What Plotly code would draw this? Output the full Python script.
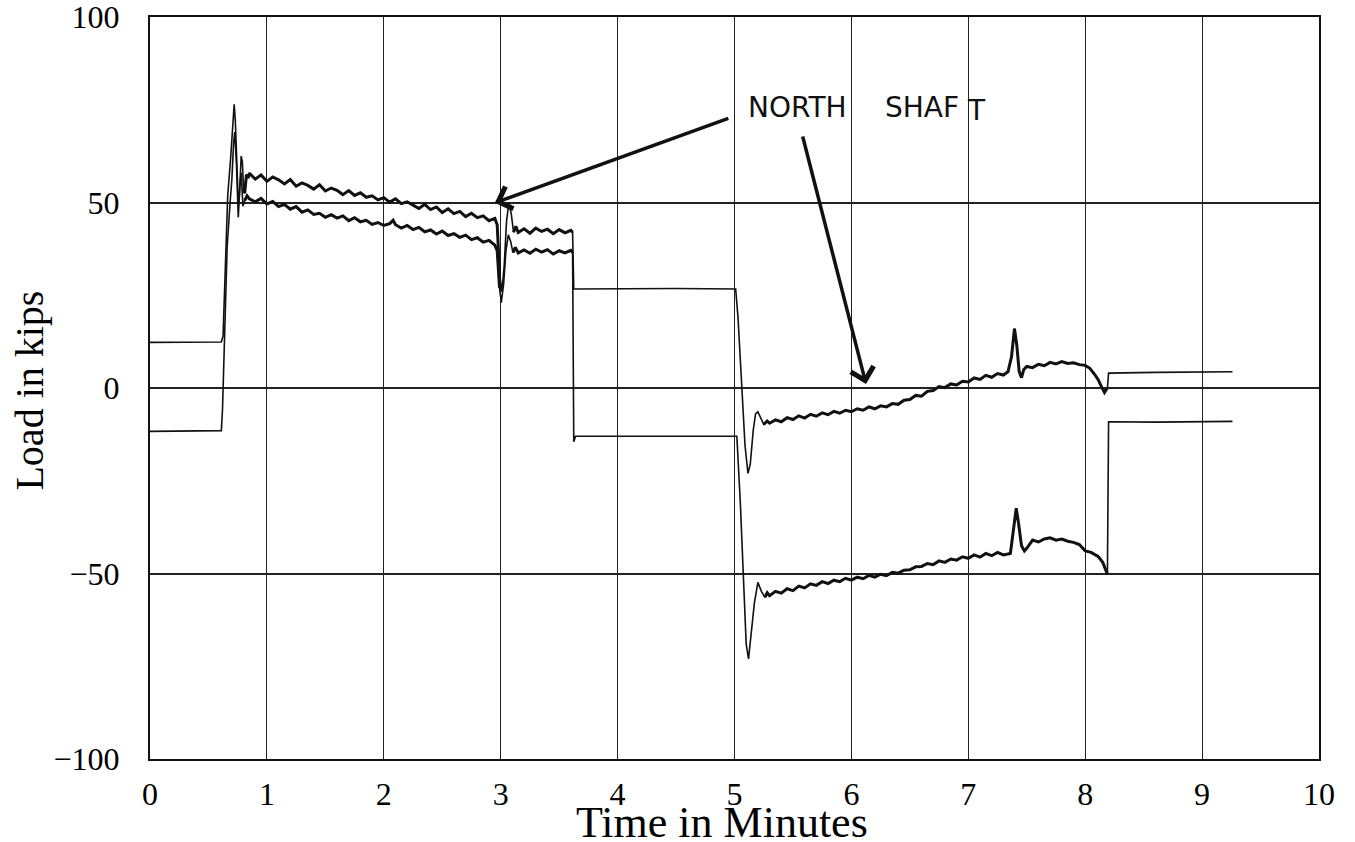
import plotly.graph_objects as go

# ---- data (time in minutes, load in kips) ----
upper_x = [0.00, 0.30, 0.61, 0.625, 0.645, 0.665, 0.69, 0.705, 0.72, 0.73, 0.745, 0.755, 0.765, 0.78, 0.79, 0.80, 0.81, 0.825, 0.84,
           0.85, 0.90, 0.95, 1.00, 1.05, 1.10, 1.15, 1.20, 1.25, 1.30, 1.35, 1.40, 1.45, 1.50, 1.55, 1.60, 1.65, 1.70, 1.75, 1.80,
           1.85, 1.90, 1.95, 2.00, 2.05, 2.10, 2.15, 2.20, 2.25, 2.30, 2.35, 2.40, 2.45, 2.50, 2.55, 2.60, 2.65, 2.70, 2.75, 2.80,
           2.85, 2.90, 2.95, 2.97, 2.99, 3.01, 3.03, 3.05, 3.07, 3.09, 3.11, 3.13, 3.15, 3.20, 3.25, 3.30, 3.35, 3.40, 3.45, 3.50,
           3.55, 3.60, 3.615, 3.625, 4.50, 5.01, 5.03, 5.06, 5.09, 5.115, 5.135, 5.16, 5.18, 5.20, 5.225, 5.25, 5.28, 5.30, 5.35,
           5.40, 5.45, 5.50, 5.55, 5.60, 5.65, 5.70, 5.75, 5.80, 5.85, 5.90, 5.95, 6.00, 6.05, 6.10, 6.15, 6.20, 6.25, 6.30, 6.35,
           6.40, 6.45, 6.50, 6.55, 6.60, 6.65, 6.70, 6.75, 6.80, 6.85, 6.90, 6.95, 7.00, 7.05, 7.10, 7.15, 7.20, 7.25, 7.30, 7.34,
           7.37, 7.395, 7.415, 7.435, 7.455, 7.475, 7.50, 7.55, 7.60, 7.65, 7.70, 7.75, 7.80, 7.85, 7.90, 7.95, 8.00, 8.04, 8.08,
           8.11, 8.14, 8.165, 8.19, 8.20, 8.60, 9.26]
upper_y = [12.3, 12.3, 12.4, 14.0, 35.0, 52.0, 62.0, 70.0, 76.5, 72.0, 58.0, 50.0, 52.0, 62.5, 61.0, 54.0, 52.5, 57.5, 56.6,
           57.9, 56.3, 57.4, 55.7, 56.9, 56.1, 55.0, 56.2, 54.4, 55.3, 54.6, 53.6, 54.8, 53.1, 53.9, 53.3, 52.1, 53.2, 51.9, 52.6,
           51.4, 51.8, 50.7, 51.3, 50.1, 51.0, 49.7, 50.2, 49.3, 48.4, 49.5, 48.1, 48.8, 47.3, 48.3, 47.0, 47.6, 46.2, 47.1, 45.9,
           46.4, 45.1, 45.7, 44.0, 31.0, 26.0, 33.0, 45.0, 50.0, 47.0, 42.0, 43.6, 41.9, 42.9, 41.7, 43.1, 42.2, 42.8, 41.6, 42.7,
           41.8, 42.5, 42.0, 26.7, 26.8, 26.7, 19.0, 1.0, -15.5, -23.0, -20.5, -11.5, -7.0, -6.4, -8.0, -9.8, -8.9, -9.5, -8.6,
           -9.1, -8.0, -8.5, -7.5, -8.1, -7.1, -7.6, -6.7, -7.2, -6.3, -6.8, -6.0, -6.4, -5.6, -6.0, -5.1, -5.6, -4.8, -5.1, -4.2,
           -4.4, -3.3, -3.1, -2.0, -2.2, -0.9, -0.7, 0.4, 0.1, 1.1, 0.8, 1.8, 1.6, 2.7, 2.3, 3.4, 2.9, 3.9, 3.5, 4.4,
           8.5, 16.0, 11.5, 4.5, 2.8, 5.0, 5.8, 5.5, 6.4, 6.0, 6.9, 6.5, 7.1, 6.6, 6.8, 6.3, 6.1, 5.3, 3.7,
           2.3, 0.3, -1.2, 0.0, 4.0, 4.2, 4.4]

lower_x = [0.00, 0.30, 0.61, 0.62, 0.64, 0.66, 0.685, 0.70, 0.715, 0.725, 0.74, 0.755, 0.77, 0.78, 0.795, 0.81, 0.83,
           0.85, 0.90, 0.95, 1.00, 1.05, 1.10, 1.15, 1.20, 1.25, 1.30, 1.35, 1.40, 1.45, 1.50, 1.55, 1.60, 1.65, 1.70, 1.75, 1.80,
           1.85, 1.90, 1.95, 2.00, 2.05, 2.08, 2.10, 2.15, 2.20, 2.25, 2.30, 2.35, 2.40, 2.45, 2.50, 2.55, 2.60, 2.65, 2.70, 2.75,
           2.80, 2.85, 2.90, 2.95, 2.97, 2.99, 3.005, 3.025, 3.045, 3.065, 3.085, 3.105, 3.125, 3.15, 3.20, 3.25, 3.30, 3.35, 3.40,
           3.45, 3.50, 3.55, 3.60, 3.615, 3.625, 3.64, 4.50, 5.02, 5.05, 5.08, 5.10, 5.12, 5.14, 5.17, 5.20, 5.23, 5.26, 5.28,
           5.30, 5.35, 5.40, 5.45, 5.50, 5.55, 5.60, 5.65, 5.70, 5.75, 5.80, 5.85, 5.90, 5.95, 6.00, 6.05, 6.10, 6.15, 6.20, 6.25,
           6.30, 6.35, 6.40, 6.45, 6.50, 6.55, 6.60, 6.65, 6.70, 6.75, 6.80, 6.85, 6.90, 6.95, 7.00, 7.05, 7.10, 7.15, 7.20, 7.25,
           7.30, 7.36, 7.385, 7.41, 7.43, 7.455, 7.48, 7.50, 7.55, 7.60, 7.65, 7.70, 7.75, 7.80, 7.85, 7.90, 7.95, 8.00, 8.05,
           8.11, 8.15, 8.19, 8.20, 8.60, 9.26]
lower_y = [-11.7, -11.6, -11.5, -6.0, 15.0, 38.0, 50.0, 56.0, 66.0, 69.0, 60.0, 46.0, 55.0, 58.0, 49.0, 50.5, 51.8,
           51.0, 50.2, 51.1, 49.6, 50.3, 48.9, 49.5, 48.2, 48.9, 47.4, 48.0, 46.8, 47.1, 46.0, 46.7, 45.8, 46.4, 45.1, 45.9, 44.8,
           45.2, 44.1, 44.6, 43.8, 44.3, 45.2, 44.0, 43.1, 43.8, 42.7, 43.3, 42.1, 42.6, 41.5, 42.3, 41.1, 41.6, 40.6, 41.2, 40.0,
           40.5, 39.3, 39.8, 38.5, 37.0, 27.0, 23.0, 28.0, 37.0, 41.3, 39.5, 36.5, 37.9, 36.4, 37.2, 36.3, 37.4, 36.6, 37.3,
           36.1, 37.0, 36.4, 37.1, 36.5, -14.5, -13.0, -13.0, -13.0, -31.0, -56.0, -69.0, -73.0, -67.0, -58.0, -52.4, -54.8, -56.4, -55.2,
           -56.0, -54.8, -55.3, -54.1, -54.6, -53.4, -53.9, -52.8, -53.2, -52.2, -52.7, -51.8, -52.2, -51.3, -51.8, -51.0, -51.4, -50.5, -51.0, -50.2,
           -50.6, -49.7, -49.9, -49.1, -49.0, -48.2, -48.1, -47.3, -47.6, -46.6, -47.0, -46.1, -46.4, -45.5, -45.9, -45.0, -45.6, -44.6, -45.2, -44.3,
           -45.0, -44.6, -38.5, -32.4, -36.5, -42.5, -43.9, -43.2, -41.0, -41.5, -40.7, -40.4, -41.0, -40.7, -41.3, -41.6, -42.2, -43.9, -44.3,
           -45.4, -47.0, -50.2, -9.1, -9.2, -9.0]

# time windows in which the recorded signal is noisy (drawn with a heavier pen)
noisy_windows = [(0.80, 3.00), (3.10, 3.62), (5.25, 8.19)]

x_ticks = [0, 1, 2, 3, 4, 5, 6, 7, 8, 9, 10]
y_ticks = [-100, -50, 0, 50, 100]

INK = "#111111"
SERIF = "Liberation Serif"

fig = go.Figure()
for xs, ys in [(upper_x, upper_y), (lower_x, lower_y)]:
    fig.add_trace(go.Scatter(x=xs, y=ys, mode="lines",
                             line=dict(color=INK, width=1.6), hoverinfo="skip"))
    for lo, hi in noisy_windows:
        seg = [(a, b) for a, b in zip(xs, ys) if lo <= a <= hi]
        fig.add_trace(go.Scatter(x=[p[0] for p in seg], y=[p[1] for p in seg], mode="lines",
                                 line=dict(color=INK, width=3.0), hoverinfo="skip"))

axis_common = dict(showline=True, linecolor=INK, linewidth=2, mirror=True,
                   zeroline=False, ticks="", showgrid=True, gridcolor="#222222",
                   automargin=False, ticklabeloverflow="allow",
                   tickfont=dict(family=SERIF, size=32, color="#000000"))

fig.update_layout(
    width=1355, height=842,
    margin=dict(l=150, r=36, t=17, b=83),
    paper_bgcolor="white", plot_bgcolor="white",
    showlegend=False,
    xaxis=dict(range=[0, 10], tickvals=x_ticks, gridwidth=1,
               ticklabelstandoff=6, **axis_common),
    yaxis=dict(range=[-100, 100], tickvals=y_ticks, gridwidth=2,
               ticklabelstandoff=22, **axis_common),
)

# axis titles
fig.add_annotation(text="Time in Minutes", xref="paper", yref="paper",
                   x=0.489, y=-0.086, xanchor="center", yanchor="middle",
                   showarrow=False, font=dict(family=SERIF, size=44, color="#000"))
fig.add_annotation(text="Load in kips", xref="paper", yref="paper",
                   x=-0.103, y=0.496, xanchor="center", yanchor="middle", textangle=-90,
                   showarrow=False, font=dict(family=SERIF, size=40, color="#000"))

# hand-written label and arrows
HAND = dict(family="DejaVu Sans", size=28, color=INK)
fig.add_annotation(text="NORTH", x=5.54, y=75.7, xref="x", yref="y", showarrow=False, font=HAND)
fig.add_annotation(text="SHAF", x=6.6, y=75.7, xref="x", yref="y", showarrow=False, font=HAND)
fig.add_annotation(text="T", x=7.07, y=74.7, xref="x", yref="y", showarrow=False, font=HAND)

arrows = [((2.95, 49.9), (4.96, 72.8)), ((6.125, 1.1), (5.58, 68.2))]
for (hx, hy), (tx, ty) in arrows:
    fig.add_annotation(x=hx, y=hy, ax=tx, ay=ty, xref="x", yref="y", axref="x", ayref="y",
                       text="", showarrow=True, arrowhead=4, arrowsize=1.3,
                       arrowwidth=3.5, arrowcolor=INK)

fig.write_html("out.html", config={"displayModeBar": False},
               post_script="document.body.style.margin='0';document.body.style.overflow='hidden';")
